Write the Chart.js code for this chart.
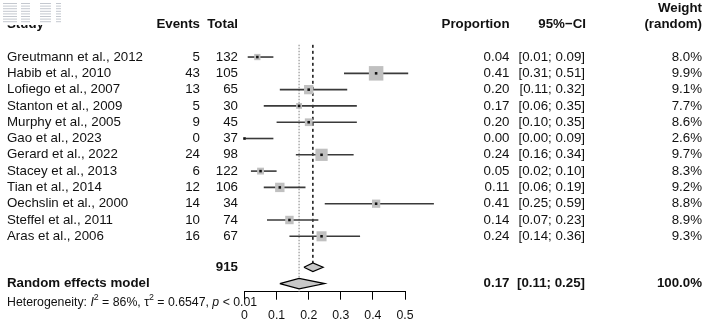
<!DOCTYPE html>
<html>
<head>
<meta charset="utf-8">
<script src="https://cdn.jsdelivr.net/npm/chart.js@4.4.1/dist/chart.umd.min.js"></script>
<style>
    html, body { margin: 0; padding: 0; background: #fff; }
    canvas { display: block; }
</style>
</head>
<body>
<canvas id="forest" width="708" height="326"></canvas>
<script>
// -------- DATA --------
const studies = [
    "Greutmann et al., 2012", "Habib et al., 2010", "Lofiego et al., 2007",
    "Stanton et al., 2009", "Murphy et al., 2005", "Gao et al., 2023",
    "Gerard et al., 2022", "Stacey et al., 2013", "Tian et al., 2014",
    "Oechslin et al., 2000", "Steffel et al., 2011", "Aras et al., 2006"
];
const events = [5, 43, 13, 5, 9, 0, 24, 6, 12, 14, 10, 16];
const totals = [132, 105, 65, 30, 45, 37, 98, 122, 106, 34, 74, 67];
const proportion = [0.04, 0.41, 0.20, 0.17, 0.20, 0.00, 0.24, 0.05, 0.11, 0.41, 0.14, 0.24];
const ciLow = [0.01, 0.31, 0.11, 0.06, 0.10, 0.00, 0.16, 0.02, 0.06, 0.25, 0.07, 0.14];
const ciHigh = [0.09, 0.51, 0.32, 0.35, 0.35, 0.09, 0.34, 0.10, 0.19, 0.59, 0.23, 0.36];
const weightRandom = [8.0, 9.9, 9.1, 7.7, 8.6, 2.6, 9.7, 8.3, 9.2, 8.8, 8.9, 9.3];
// common-effect weights (%)
const weightCommon = [4.1, 21.9, 9.0, 3.6, 6.2, 0.4, 15.6, 4.9, 9.2, 7.1, 7.4, 10.5];
const totalN = 915;
const commonEffect = [0.185, 0.213, 0.245];   // low, estimate, high
const randomEffect = [0.11, 0.17, 0.25];
const xTicks = [0, 0.1, 0.2, 0.3, 0.4, 0.5];

// rows (y positions in row units)
const rows = studies.map((s, i) => i + 1);
const commonRow = 13.9, randomRow = 14.9;

const fmt = v => v.toFixed(2);

// -------- DATASETS --------
const ciLines = studies.map((s, i) => ({
    type: "line",
    data: [{ x: ciLow[i], y: rows[i] }, { x: ciHigh[i], y: rows[i] }],
    borderColor: "#3a3a3a",
    borderWidth: 1.6,
    pointRadius: 0,
    clip: false,
    order: 3
}));

const diamond = (est, row, h) => [
    { x: est[0], y: row }, { x: est[1], y: row - h },
    { x: est[2], y: row }, { x: est[1], y: row + h }, { x: est[0], y: row }
];

const datasets = [
    {
        type: "line",
        data: [{ x: commonEffect[1], y: 0.25 }, { x: commonEffect[1], y: commonRow - 0.25 }],
        borderColor: "#000", borderWidth: 1.4, borderDash: [3, 3],
        pointRadius: 0, clip: false, order: 5
    },
    {
        type: "line",
        data: [{ x: randomEffect[1], y: 0.25 }, { x: randomEffect[1], y: 15.4 }],
        borderColor: "#8c8c8c", borderWidth: 1.1, borderDash: [1.5, 1.5],
        pointRadius: 0, clip: false, order: 6
    },
    ...ciLines,
    {
        type: "scatter",
        data: proportion.map((p, i) => ({ x: p, y: rows[i] })),
        pointStyle: "rect",
        pointRadius: weightCommon.map(w => 3.1 * Math.sqrt(w) / Math.SQRT2),
        backgroundColor: "#c0c0c0", borderWidth: 0,
        clip: false, order: 2
    },
    {
        type: "scatter",
        data: proportion.map((p, i) => ({ x: p, y: rows[i] })),
        pointStyle: "rect", pointRadius: 1.8,
        backgroundColor: "#111", borderWidth: 0,
        clip: false, order: 1
    },
    {
        type: "line",
        data: diamond(commonEffect, commonRow, 0.26),
        borderColor: "#000", borderWidth: 1.2, polyFill: "#c8c8c8",
        pointRadius: 0, tension: 0, clip: false, order: 0
    },
    {
        type: "line",
        data: diamond(randomEffect, randomRow, 0.32),
        borderColor: "#000", borderWidth: 1.2, polyFill: "#c8c8c8",
        pointRadius: 0, tension: 0, clip: false, order: 0
    }
];

// fill the summary diamonds from the points the line elements were placed at
const diamondPlugin = {
    id: "diamondFill",
    beforeDatasetDraw(chart, args) {
        const ds = chart.data.datasets[args.index];
        if (!ds.polyFill) return;
        const pts = args.meta.data;
        const ctx = chart.ctx;
        ctx.save();
        ctx.beginPath();
        pts.forEach((p, k) => (k ? ctx.lineTo(p.x, p.y) : ctx.moveTo(p.x, p.y)));
        ctx.closePath();
        ctx.fillStyle = ds.polyFill;
        ctx.fill();
        ctx.restore();
    }
};

// -------- TEXT COLUMNS --------
const FONT = '"Liberation Sans", Arial, sans-serif';

const tablePlugin = {
    id: "table",
    afterDraw(chart) {
        const ctx = chart.ctx;
        const py = r => chart.scales.y.getPixelForValue(r);
        ctx.save();
        ctx.fillStyle = "#111";
        ctx.textBaseline = "middle";

        const txt = (s, x, r, align, bold, size) => {
            ctx.font = (bold ? "bold " : "") + (size || 13.3) + "px " + FONT;
            ctx.textAlign = align || "left";
            ctx.fillText(s, x, py(r));
        };

        // headers
        txt("Study", 7, -1, "left", true);
        txt("Events", 200, -1, "right", true);
        txt("Total", 238, -1, "right", true);
        txt("Proportion", 509.5, -1, "right", true);
        txt("95%\u2212CI", 586, -1, "right", true);
        txt("Weight", 702, -2, "right", true);
        txt("(random)", 702, -1, "right", true);

        // study rows
        studies.forEach((s, i) => {
            const r = rows[i];
            txt(s, 7, r);
            txt(String(events[i]), 200, r, "right");
            txt(String(totals[i]), 238, r, "right");
            txt(fmt(proportion[i]), 509.5, r, "right");
            txt("[" + fmt(ciLow[i]) + "; " + fmt(ciHigh[i]) + "]", 585, r, "right");
            txt(weightRandom[i].toFixed(1) + "%", 702, r, "right");
        });

        // summary rows
        txt(String(totalN), 238, commonRow, "right", true);
        txt("Random effects model", 7, randomRow, "left", true);
        txt(fmt(randomEffect[1]), 509.5, randomRow, "right", true);
        txt("[" + fmt(randomEffect[0]) + "; " + fmt(randomEffect[2]) + "]", 585, randomRow, "right", true);
        txt("100.0%", 702, randomRow, "right", true);

        // heterogeneity line
        let x = 7;
        const y = py(16.05);
        const part = (s, font, dy) => {
            ctx.font = font;
            ctx.textAlign = "left";
            ctx.fillText(s, x, y + (dy || 0));
            x += ctx.measureText(s).width;
        };
        const f = "12.3px " + FONT, fi = "italic 12.3px " + FONT, fs = "8.8px " + FONT;
        part("Heterogeneity: ", f);
        part("I", fi);
        part("2", fs, -4.5);
        part(" = 86%, ", f);
        part("\u03C4", f);
        part("2", fs, -4.5);
        part(" = 0.6547, ", f);
        part("p", fi);
        part(" < 0.01", f);

        // little pasted thumbnail covering the top-left corner
        ctx.fillStyle = "#fff";
        ctx.fillRect(0, 0, 64, 25);
        ctx.fillStyle = "#c4c8cf";
        for (let k = 0; k < 8; k++) {
            ctx.fillRect(3, 3 + k * 2.6, 14, 1);
            ctx.fillRect(21, 3 + k * 2.6, 9, 1);
            ctx.fillRect(40, 3 + k * 2.6, 11, 1);
            ctx.fillRect(56, 3 + k * 2.6, 5, 1);
        }
        ctx.restore();
    }
};

// -------- CHART --------
const ctx = document.getElementById("forest");
new Chart(ctx, {
    data: { datasets },
    options: {
        responsive: false,
        animation: false,
        layout: { autoPadding: false, padding: { left: 244.5, right: 303, top: 0, bottom: 0 } },
        plugins: { legend: { display: false }, tooltip: { enabled: false } },
        scales: {
            x: {
                type: "linear",
                min: 0,
                max: 0.5,
                afterBuildTicks: s => { s.ticks = xTicks.map(v => ({ value: v })); },
                afterFit: s => { s.height = 34.3; },
                ticks: {
                    color: "#111",
                    padding: 9,
                    font: { family: FONT, size: 12.3 },
                    callback: v => String(v)
                },
                grid: {
                    display: true,
                    drawOnChartArea: false,
                    drawTicks: true,
                    tickLength: 8,
                    color: "#000",
                    lineWidth: 1
                },
                border: { display: true, color: "#000", width: 1 }
            },
            y: {
                type: "linear",
                display: false,
                reverse: true,
                min: -2.5,
                max: 15.4
            }
        }
    },
    plugins: [diamondPlugin, tablePlugin]
});
</script>
</body>
</html>
